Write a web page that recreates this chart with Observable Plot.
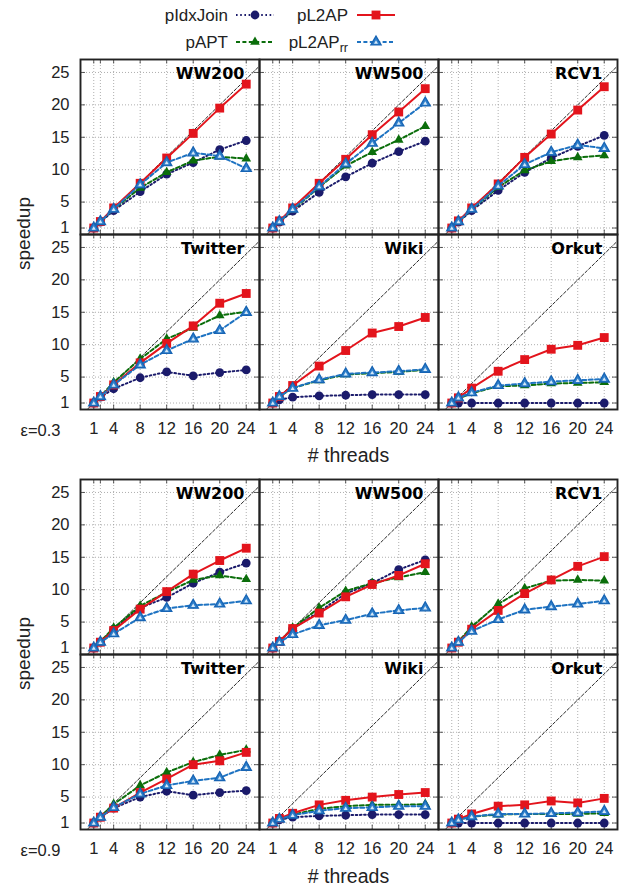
<!DOCTYPE html>
<html><head><meta charset="utf-8">
<script src="https://cdn.jsdelivr.net/npm/d3@7"></script>
<script src="https://cdn.jsdelivr.net/npm/@observablehq/plot@0.6"></script>
<style>
body{margin:0;background:#fff;font-family:"Liberation Sans",Arial,sans-serif;}
#chart{width:624px;}
svg{display:block;}
</style></head><body><div id="chart"></div>
<script>
// ---------- data ----------
const threads = [1, 2, 4, 8, 12, 16, 20, 24];
const xTickLabels = [1, 4, 8, 12, 16, 20, 24];
const xGridValues = [1, 2, 4, 8, 12, 16, 20, 24];
const yTickLabels = [1, 5, 10, 15, 20, 25];
const datasetsTopRow = ["WW200", "WW500", "RCV1"];
const datasetsBottomRow = ["Twitter", "Wiki", "Orkut"];
const methods = ["pIdxJoin", "pAPT", "pL2AP", "pL2AP_rr"];
const epsLabels = ["ε=0.3", "ε=0.9"];

// ε = 0.3
const ww200_e03_pIdxJoin = [1, 1.9, 3.7, 6.6, 9.3, 11.1, 13.1, 14.5];
const ww200_e03_pAPT     = [1, 2.0, 3.9, 7.2, 9.6, 11.4, 12.0, 11.7];
const ww200_e03_pL2AP    = [1, 2.0, 4.1, 7.9, 11.8, 15.6, 19.5, 23.2];
const ww200_e03_pL2AP_rr = [1, 2.0, 3.9, 7.7, 11.1, 12.6, 12.1, 10.2];

const ww500_e03_pIdxJoin = [1, 1.9, 3.6, 6.5, 8.9, 11.0, 12.8, 14.4];
const ww500_e03_pAPT     = [1, 2.0, 3.8, 7.3, 10.6, 12.7, 14.6, 16.7];
const ww500_e03_pL2AP    = [1, 2.1, 4.1, 7.9, 11.6, 15.4, 18.9, 22.5];
const ww500_e03_pL2AP_rr = [1, 2.0, 3.9, 7.4, 10.9, 14.1, 17.2, 20.3];

const rcv1_e03_pIdxJoin  = [1, 1.9, 3.7, 6.8, 9.6, 11.8, 13.6, 15.3];
const rcv1_e03_pAPT      = [1, 2.0, 3.9, 7.3, 9.9, 11.3, 11.9, 12.2];
const rcv1_e03_pL2AP     = [1, 2.1, 4.1, 7.8, 11.9, 15.5, 19.2, 22.8];
const rcv1_e03_pL2AP_rr  = [1, 2.0, 3.9, 7.5, 10.8, 12.7, 13.8, 13.3];

const twitter_e03_pIdxJoin = [1, 1.9, 3.2, 4.9, 5.8, 5.2, 5.7, 6.1];
const twitter_e03_pAPT     = [1, 2.0, 4.2, 7.8, 10.9, 12.6, 14.5, 15.1];
const twitter_e03_pL2AP    = [1, 2.0, 3.8, 7.2, 10.2, 12.9, 16.4, 17.9];
const twitter_e03_pL2AP_rr = [1, 2.0, 3.8, 6.9, 9.1, 10.9, 12.2, 15.0];

const wiki_e03_pIdxJoin = [1, 1.5, 1.9, 2.1, 2.2, 2.3, 2.3, 2.3];
const wiki_e03_pAPT     = [1, 2.0, 3.3, 4.5, 5.4, 5.6, 5.8, 6.1];
const wiki_e03_pL2AP    = [1, 2.0, 3.7, 6.7, 9.1, 11.8, 12.8, 14.2];
const wiki_e03_pL2AP_rr = [1, 2.0, 3.3, 4.6, 5.5, 5.7, 5.9, 6.2];

const orkut_e03_pIdxJoin = [1, 1.0, 1.0, 1.0, 1.0, 1.0, 1.0, 1.0];
const orkut_e03_pAPT     = [1, 1.7, 2.5, 3.6, 3.7, 4.0, 4.1, 4.2];
const orkut_e03_pL2AP    = [1, 1.8, 3.3, 5.9, 7.7, 9.3, 9.9, 11.1];
const orkut_e03_pL2AP_rr = [1, 1.8, 2.6, 3.7, 4.0, 4.3, 4.5, 4.7];

// ε = 0.9
const ww200_e09_pIdxJoin = [1, 1.9, 3.9, 7.2, 8.8, 11.0, 12.7, 14.1];
const ww200_e09_pAPT     = [1, 2.0, 4.1, 7.5, 9.6, 11.5, 12.2, 11.6];
const ww200_e09_pL2AP    = [1, 1.9, 3.7, 7.0, 9.7, 12.4, 14.5, 16.4];
const ww200_e09_pL2AP_rr = [1, 1.9, 3.2, 5.7, 7.1, 7.6, 7.8, 8.3];

const ww500_e09_pIdxJoin = [1, 2.0, 4.0, 6.6, 9.4, 11.0, 13.1, 14.6];
const ww500_e09_pAPT     = [1, 2.0, 4.1, 7.2, 9.8, 11.0, 11.9, 12.7];
const ww500_e09_pL2AP    = [1, 2.0, 4.0, 6.4, 8.9, 10.8, 12.2, 14.0];
const ww500_e09_pL2AP_rr = [1, 1.9, 3.1, 4.5, 5.3, 6.3, 6.8, 7.2];

const rcv1_e09_pIdxJoin  = [];
const rcv1_e09_pAPT      = [1, 2.0, 4.3, 7.8, 10.2, 11.4, 11.5, 11.4];
const rcv1_e09_pL2AP     = [1, 1.9, 3.9, 6.8, 9.4, 11.5, 13.6, 15.1];
const rcv1_e09_pL2AP_rr  = [1, 1.9, 3.6, 5.4, 6.9, 7.4, 7.8, 8.3];

const twitter_e09_pIdxJoin = [1, 1.9, 3.3, 5.0, 5.9, 5.3, 5.7, 6.0];
const twitter_e09_pAPT     = [1, 2.0, 3.9, 6.8, 8.8, 10.4, 11.5, 12.3];
const twitter_e09_pL2AP    = [1, 1.9, 3.3, 5.7, 7.8, 10.0, 10.6, 11.9];
const twitter_e09_pL2AP_rr = [1, 1.9, 3.4, 5.5, 6.8, 7.5, 8.0, 9.6];

const wiki_e09_pIdxJoin = [1, 1.5, 1.9, 2.1, 2.2, 2.3, 2.3, 2.3];
const wiki_e09_pAPT     = [1, 1.6, 2.3, 3.2, 3.6, 3.8, 3.8, 3.9];
const wiki_e09_pL2AP    = [1, 1.7, 2.5, 3.8, 4.5, 5.0, 5.4, 5.7];
const wiki_e09_pL2AP_rr = [1, 1.6, 2.2, 2.9, 3.3, 3.4, 3.6, 3.6];

const orkut_e09_pIdxJoin = [1, 1.0, 1.0, 1.0, 1.0, 1.0, 1.0, 1.0];
const orkut_e09_pAPT     = [1, 1.5, 2.0, 2.3, 2.4, 2.4, 2.4, 2.5];
const orkut_e09_pL2AP    = [1, 1.6, 2.4, 3.6, 3.8, 4.4, 4.1, 4.8];
const orkut_e09_pL2AP_rr = [1, 1.5, 2.0, 2.4, 2.4, 2.5, 2.6, 2.8];

const blockE03 = [
  [ww200_e03_pIdxJoin, ww200_e03_pAPT, ww200_e03_pL2AP, ww200_e03_pL2AP_rr],
  [ww500_e03_pIdxJoin, ww500_e03_pAPT, ww500_e03_pL2AP, ww500_e03_pL2AP_rr],
  [rcv1_e03_pIdxJoin, rcv1_e03_pAPT, rcv1_e03_pL2AP, rcv1_e03_pL2AP_rr],
  [twitter_e03_pIdxJoin, twitter_e03_pAPT, twitter_e03_pL2AP, twitter_e03_pL2AP_rr],
  [wiki_e03_pIdxJoin, wiki_e03_pAPT, wiki_e03_pL2AP, wiki_e03_pL2AP_rr],
  [orkut_e03_pIdxJoin, orkut_e03_pAPT, orkut_e03_pL2AP, orkut_e03_pL2AP_rr]
];
const blockE09 = [
  [ww200_e09_pIdxJoin, ww200_e09_pAPT, ww200_e09_pL2AP, ww200_e09_pL2AP_rr],
  [ww500_e09_pIdxJoin, ww500_e09_pAPT, ww500_e09_pL2AP, ww500_e09_pL2AP_rr],
  [rcv1_e09_pIdxJoin, rcv1_e09_pAPT, rcv1_e09_pL2AP, rcv1_e09_pL2AP_rr],
  [twitter_e09_pIdxJoin, twitter_e09_pAPT, twitter_e09_pL2AP, twitter_e09_pL2AP_rr],
  [wiki_e09_pIdxJoin, wiki_e09_pAPT, wiki_e09_pL2AP, wiki_e09_pL2AP_rr],
  [orkut_e09_pIdxJoin, orkut_e09_pAPT, orkut_e09_pL2AP, orkut_e09_pL2AP_rr]
];

// ---------- styles ----------
const FONT = '"Liberation Sans", Arial, Helvetica, sans-serif';
const styles = {
  pIdxJoin: {stroke: "#1b1b6b", dash: "1.6,2.6", symbol: "circle", r: 4.4, fill: "#1b1b6b", dotStroke: "none", sw: 0},
  pAPT:     {stroke: "#0b6e0b", dash: "4,2.4", symbol: "triangle", r: 3.6, fill: "#0b6e0b", dotStroke: "none", sw: 0},
  pL2AP:    {stroke: "#e3141c", dash: null, symbol: "square", r: 5.0, fill: "#e3141c", dotStroke: "none", sw: 0},
  pL2AP_rr: {stroke: "#1e73c2", dash: "4,2.4", symbol: "triangle", r: 3.8, fill: "#2f80cc", dotStroke: "#1764b4", sw: 1.3, inner: "#d6e8f7"}
};
const xDomain = [-1, 26];
const yDomain = [0, 27];
const W = 624, ML = 80, MR = 7;

function buildBlock(block, epsLabel, marginTop, marginBottom, height, threadsLabelY) {
  const rows = [];
  block.forEach((panel, p) => {
    panel.forEach((vals, m) => {
      vals.forEach((v, i) => rows.push({col: p % 3, row: Math.floor(p / 3), method: methods[m], threads: threads[i], speedup: v}));
    });
  });
  const panels = datasetsTopRow.concat(datasetsBottomRow).map((name, p) => ({col: p % 3, row: Math.floor(p / 3), name}));
  const pw = (W - ML - MR) / 3;
  const ph = (height - marginTop - marginBottom) / 2;
  const ideal = xDomain.map(v => ({t: v, s: v}));
  const gridStyle = {stroke: "#9a9a9a", strokeOpacity: 1, strokeWidth: 0.8, strokeDasharray: "1,2"};
  const marks = [
    Plot.gridX(xGridValues, gridStyle),
    Plot.gridY(yTickLabels, gridStyle),
    Plot.tickX(xGridValues, {x: d => d, insetTop: ph - 5, stroke: "#333", strokeWidth: 0.8}),
    Plot.tickX(xGridValues, {x: d => d, insetBottom: ph - 5, stroke: "#333", strokeWidth: 0.8}),
    Plot.tickY(yTickLabels, {y: d => d, insetRight: pw - 5, stroke: "#333", strokeWidth: 0.8}),
    Plot.tickY(yTickLabels, {y: d => d, insetLeft: pw - 5, stroke: "#333", strokeWidth: 0.8}),
    Plot.line(ideal, {x: "t", y: "s", clip: true, stroke: "#111", strokeWidth: 0.9, strokeDasharray: "3,2"})
  ];
  for (const m of methods) {
    const s = styles[m];
    const d = rows.filter(r => r.method === m);
    marks.push(Plot.line(d, {x: "threads", y: "speedup", fx: "col", fy: "row", stroke: s.stroke, strokeWidth: 2, strokeDasharray: s.dash || undefined}));
    marks.push(Plot.dot(d, {x: "threads", y: "speedup", fx: "col", fy: "row", symbol: () => s.symbol, r: s.r, fill: s.fill, stroke: s.dotStroke, strokeWidth: s.sw}));
    if (s.inner) marks.push(Plot.dot(d, {x: "threads", y: "speedup", fx: "col", fy: "row", symbol: () => s.symbol, r: 1.5, fill: s.inner, dy: 0.6}));
  }
  marks.push(
    Plot.frame({stroke: "#222", strokeWidth: 1.9}),
    Plot.axisX(xTickLabels, {tickSize: 0, tickPadding: 13, label: null, fontSize: 16.5, facetAnchor: "bottom"}),
    Plot.axisY(yTickLabels, {tickSize: 0, tickPadding: 11, label: null, fontSize: 16.5, facetAnchor: "left"}),
    Plot.text(panels, {fx: "col", fy: "row", text: "name", frameAnchor: "top-right", dx: -15, dy: 8, lineAnchor: "top", textAnchor: "end", fontFamily: '"DejaVu Sans", sans-serif', fontWeight: "bold", fontSize: 16, fill: "#000"}),
    Plot.text([{col: 0, row: 1, label: epsLabel}], {fx: "col", fy: "row", text: "label", frameAnchor: "bottom-left", dx: -40, dy: 21, textAnchor: "middle", lineAnchor: "middle", fontSize: 16.5, fill: "#222"})
  );
  const svg = Plot.plot({
    width: W, height, marginTop, marginBottom, marginLeft: ML, marginRight: MR,
    x: {domain: xDomain}, y: {domain: yDomain},
    fx: {domain: [0, 1, 2], padding: 0, axis: null},
    fy: {domain: [0, 1], padding: 0, axis: null},
    style: {fontFamily: FONT, fontSize: "16.5px", color: "#222", background: "#fff", overflow: "visible"},
    marks
  });
  const sel = d3.select(svg);
  sel.append("text").attr("transform", `translate(23,${marginTop + ph})rotate(-90)`)
    .attr("text-anchor", "middle").attr("dy", "0.35em").attr("font-family", FONT).attr("font-size", 19).attr("fill", "#222").text("speedup");
  sel.append("text").attr("x", ML + (W - ML - MR) / 2).attr("y", threadsLabelY)
    .attr("text-anchor", "middle").attr("dy", "0.35em").attr("font-family", FONT).attr("font-size", 19.5).attr("fill", "#222").text("# threads");
  return svg;
}

// ---------- legend ----------
function buildLegend() {
  const svg = d3.create("svg").attr("width", W).attr("height", 54).attr("font-family", FONT).attr("font-size", 17);
  const items = [
    {m: "pIdxJoin", tx: 228, y: 15, sx: 236},
    {m: "pL2AP", tx: 348, y: 15, sx: 357},
    {m: "pAPT", tx: 228, y: 42, sx: 236},
    {m: "pL2AP_rr", tx: 348, y: 42, sx: 357}
  ];
  for (const it of items) {
    const s = styles[it.m];
    const t = svg.append("text").attr("x", it.tx).attr("y", it.y).attr("dy", "0.35em").attr("text-anchor", "end").attr("fill", "#222");
    if (it.m === "pL2AP_rr") {
      t.append("tspan").text("pL2AP");
      t.append("tspan").attr("font-size", 12.5).attr("dy", 4.5).text("rr");
    } else t.text(it.m);
    svg.append("line").attr("x1", it.sx).attr("x2", it.sx + 38).attr("y1", it.y).attr("y2", it.y)
      .attr("stroke", s.stroke).attr("stroke-width", 2).attr("stroke-dasharray", s.dash);
    const sym = {circle: d3.symbolCircle, square: d3.symbolSquare, triangle: d3.symbolTriangle}[s.symbol];
    svg.append("path").attr("d", d3.symbol(sym, Math.PI * s.r * s.r)()).attr("transform", `translate(${it.sx + 19},${it.y})`)
      .attr("fill", s.fill).attr("stroke", s.dotStroke).attr("stroke-width", s.sw);
    if (s.inner) svg.append("path").attr("d", d3.symbol(sym, Math.PI * 1.5 * 1.5)()).attr("transform", `translate(${it.sx + 19},${it.y + 0.6})`).attr("fill", s.inner);
  }
  return svg.node();
}

const root = document.getElementById("chart");
root.appendChild(buildLegend());
root.appendChild(buildBlock(blockE03, epsLabels[0], 4, 55, 410, 401));
root.appendChild(buildBlock(blockE09, epsLabels[1], 14, 57, 422, 412));
</script></body></html>
